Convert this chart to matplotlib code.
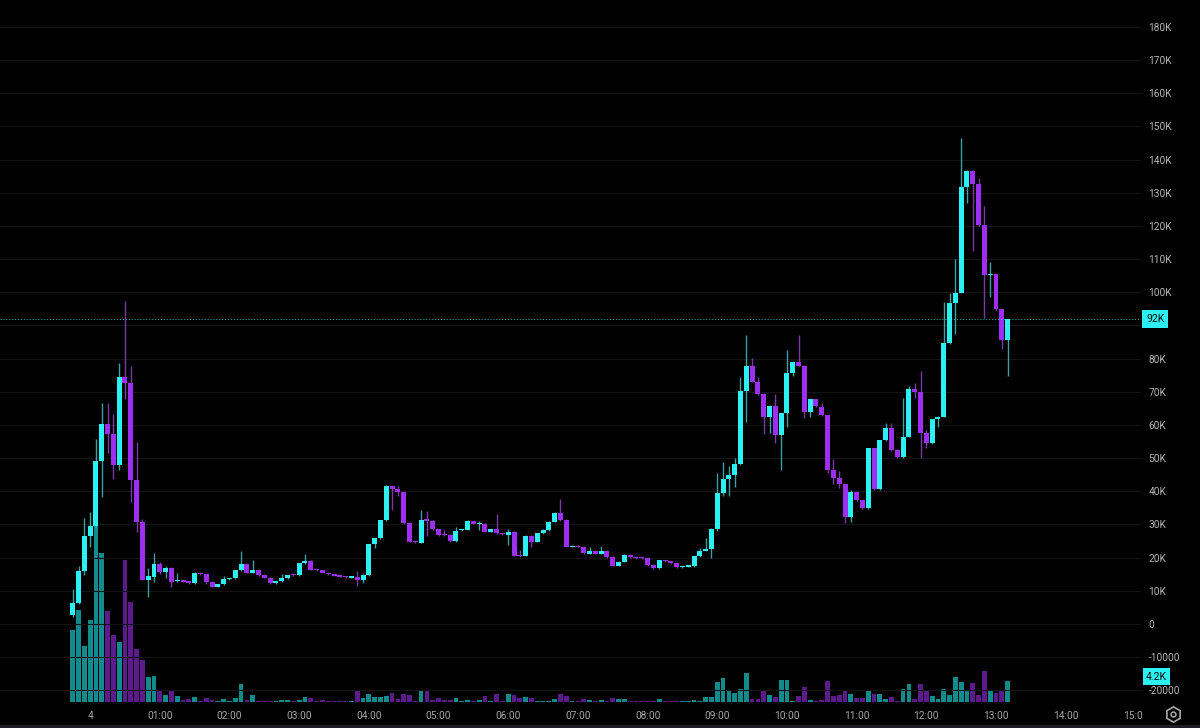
import matplotlib
matplotlib.use("Agg")
import matplotlib.pyplot as plt
from matplotlib.patches import Rectangle
from matplotlib.lines import Line2D
from matplotlib.transforms import blended_transform_factory
from matplotlib.ticker import FuncFormatter, FixedLocator
import numpy as np

plt.rcParams['font.family'] = ['Roboto', 'DejaVu Sans']

# 5-minute candles from 23:45 (day 3) to ~13:10 (day 4), prices in K
opens = [2.7, 6.4, 16.0, 26.6, 29.6, 49.2, 60.4, 57.3, 47.9, 74.4,
         72.6, 43.4, 30.7, 13.3, 14.3, 18.0, 15.6, 17.0, 12.9, 13.0,
         12.9, 12.3, 15.5, 15.0, 12.8, 11.3, 12.0, 13.5, 13.8, 16.3,
         18.0, 15.5, 16.2, 14.9, 14.0, 12.4, 12.9, 13.9, 15.0, 14.8,
         18.4, 19.1, 16.4, 16.2, 15.5, 15.0, 14.6, 14.3, 14.0, 14.3,
         13.3, 14.8, 24.1, 25.8, 31.4, 41.7, 40.6, 39.7, 30.5, 24.8,
         24.5, 31.4, 31.1, 28.5, 26.9, 26.8, 25.0, 28.2, 28.4, 31.1,
         30.2, 30.2, 27.8, 28.5, 27.2, 26.8, 27.8, 20.6, 20.6, 26.6,
         24.8, 27.3, 28.3, 30.9, 33.6, 31.4, 23.3, 23.6, 23.3, 21.2,
         22.0, 21.2, 22.0, 20.2, 17.6, 18.8, 20.8, 20.3, 20.0, 19.9,
         17.9, 16.9, 19.2, 18.9, 18.3, 17.1, 17.3, 17.5, 20.4, 22.1,
         22.5, 28.6, 39.4, 43.6, 44.9, 48.2, 70.2, 77.8, 73.1, 69.3,
         62.5, 65.8, 57.0, 63.5, 75.8, 79.1, 77.9, 63.8, 67.8, 65.5,
         63.0, 46.4, 44.1, 42.1, 32.4, 39.7, 37.4, 35.0, 53.0, 40.7,
         55.5, 59.0, 52.5, 50.4, 56.5, 70.9, 70.0, 57.5, 54.5, 61.8,
         62.5, 84.6, 96.7, 99.9, 131.7, 136.7, 132.7, 120.3, 105.2, 105.5,
         94.9, 85.6]
highs = [10.5, 17.5, 32.0, 33.9, 55.8, 66.6, 66.6, 63.3, 78.8, 97.5,
         77.8, 54.8, 31.7, 16.9, 21.3, 18.8, 17.6, 17.2, 15.5, 13.2,
         13.1, 15.7, 15.6, 15.1, 12.9, 12.1, 14.4, 13.9, 16.4, 22.1,
         18.2, 19.3, 16.5, 15.0, 14.1, 13.0, 15.2, 14.8, 15.1, 18.5,
         21.1, 19.3, 16.5, 16.3, 15.6, 15.1, 14.7, 14.4, 14.5, 16.1,
         15.0, 24.2, 26.0, 31.5, 41.8, 41.9, 41.5, 39.8, 30.7, 25.0,
         34.4, 34.2, 31.3, 28.7, 28.3, 27.0, 29.2, 28.6, 31.3, 31.2,
         31.2, 30.4, 28.7, 33.1, 27.4, 28.6, 28.0, 22.4, 26.8, 26.8,
         27.5, 28.5, 31.1, 33.8, 37.6, 31.6, 23.7, 23.8, 23.5, 23.3,
         22.2, 23.6, 22.2, 20.4, 19.0, 21.0, 21.0, 20.5, 20.2, 20.1,
         18.1, 19.4, 19.4, 19.1, 18.5, 17.5, 17.7, 20.6, 23.0, 25.8,
         28.8, 45.6, 48.9, 47.5, 50.2, 74.4, 87.1, 80.1, 74.4, 69.5,
         65.9, 69.3, 63.6, 82.6, 79.2, 87.1, 78.0, 67.9, 67.9, 66.5,
         63.1, 49.6, 46.2, 42.2, 40.5, 40.2, 37.5, 53.1, 53.1, 55.6,
         60.5, 60.5, 52.7, 68.2, 71.9, 72.8, 76.4, 58.5, 61.9, 62.6,
         97.2, 99.7, 110.0, 146.4, 136.8, 136.8, 134.4, 126.0, 109.2, 105.6,
         95.0, 91.9]
lows = [2.0, 6.0, 14.8, 23.3, 29.0, 38.3, 51.6, 43.7, 46.4, 67.7,
        36.9, 27.8, 13.3, 8.0, 12.8, 15.2, 14.0, 11.2, 12.6, 12.6,
        12.2, 12.1, 14.9, 12.0, 11.1, 11.1, 11.8, 13.3, 13.6, 16.1,
        15.3, 15.3, 14.6, 13.8, 12.2, 12.2, 12.7, 13.7, 14.6, 14.6,
        18.2, 16.2, 16.1, 15.3, 14.9, 14.4, 14.1, 13.9, 13.8, 11.5,
        12.3, 14.6, 23.0, 25.6, 31.2, 34.4, 38.5, 30.3, 24.6, 24.4,
        24.3, 26.5, 28.3, 26.6, 26.5, 24.8, 24.8, 27.9, 28.2, 30.0,
        28.4, 27.6, 27.6, 27.1, 26.8, 23.8, 20.4, 20.3, 20.4, 23.3,
        24.6, 27.1, 28.1, 30.7, 31.2, 23.1, 23.1, 23.1, 21.1, 21.0,
        21.0, 21.0, 20.0, 17.4, 17.4, 18.6, 20.0, 19.7, 19.7, 17.6,
        16.7, 16.7, 18.7, 18.1, 16.9, 16.9, 17.1, 17.3, 20.2, 21.9,
        20.0, 28.0, 38.7, 38.7, 41.4, 48.0, 61.0, 73.0, 69.1, 57.3,
        57.7, 54.7, 46.4, 59.3, 74.8, 77.7, 62.0, 62.5, 65.4, 62.8,
        45.5, 42.1, 40.9, 30.4, 30.9, 37.2, 34.7, 34.8, 40.5, 40.5,
        55.3, 52.3, 50.2, 50.2, 56.3, 68.2, 50.0, 53.0, 54.3, 59.3,
        62.3, 84.4, 87.4, 99.7, 126.8, 112.6, 120.1, 92.2, 98.7, 94.7,
        82.8, 74.8]
closes = [6.4, 16.0, 26.6, 29.6, 49.2, 60.4, 57.3, 47.9, 74.4, 72.6,
          43.4, 30.7, 13.3, 14.5, 18.0, 15.6, 17.0, 12.8, 13.2, 12.8,
          12.5, 15.5, 15.0, 12.8, 11.3, 12.0, 13.5, 13.8, 16.3, 18.0,
          15.5, 16.2, 14.8, 14.0, 12.4, 12.9, 13.9, 14.7, 14.8, 18.4,
          19.1, 16.4, 16.3, 15.5, 15.1, 14.6, 14.3, 14.1, 14.3, 13.3,
          14.8, 24.1, 25.8, 31.4, 41.7, 40.6, 39.7, 30.5, 24.8, 24.6,
          31.4, 31.2, 28.5, 26.8, 26.7, 25.0, 28.0, 28.4, 31.1, 30.2,
          30.5, 27.8, 28.5, 27.3, 27.0, 27.8, 20.6, 20.5, 26.6, 24.8,
          27.3, 28.3, 30.9, 33.6, 31.4, 23.3, 23.5, 23.3, 21.3, 22.0,
          21.2, 22.0, 20.2, 17.6, 18.8, 20.8, 20.2, 19.9, 19.9, 17.8,
          16.9, 19.2, 18.9, 18.3, 17.1, 17.3, 17.5, 20.4, 22.1, 22.5,
          28.6, 39.4, 43.6, 44.9, 48.2, 70.2, 77.8, 73.1, 69.3, 62.5,
          65.8, 57.0, 63.5, 75.8, 79.1, 77.9, 63.8, 67.8, 65.6, 63.0,
          46.4, 44.1, 42.1, 32.4, 39.7, 37.4, 34.9, 53.0, 40.7, 55.5,
          59.0, 52.5, 50.4, 56.5, 70.9, 70.0, 57.5, 54.5, 61.8, 62.5,
          84.6, 96.7, 99.9, 131.7, 136.7, 132.7, 120.3, 105.2, 105.5, 94.9,
          85.6, 91.9]
volumes = [14.7, 18.7, 11.4, 16.7, 36.0, 30.4, 18.5, 13.6, 12.2, 29.0,
           20.5, 10.9, 8.6, 5.1, 5.4, 2.5, 1.5, 2.5, 1.3, 0.4,
           0.7, 1.0, 0.2, 0.8, 0.5, 0.3, 0.7, 0.2, 0.9, 3.6,
           0.4, 1.4, 0.3, 0.3, 0.3, 0.25, 0.4, 0.5, 0.2, 0.5,
           1.0, 0.8, 0.2, 0.4, 0.2, 0.2, 0.2, 0.2, 0.2, 2.4,
           0.9, 1.7, 1.0, 1.0, 1.2, 1.9, 0.7, 1.6, 1.5, 0.2,
           2.5, 2.5, 0.4, 0.9, 0.4, 0.5, 0.8, 0.3, 0.5, 0.3,
           0.5, 1.2, 0.3, 1.7, 0.2, 1.6, 1.5, 0.8, 1.0, 0.9,
           0.3, 0.3, 0.3, 0.7, 1.6, 1.3, 0.3, 0.3, 0.6, 0.5,
           0.3, 0.5, 0.3, 0.8, 0.6, 0.6, 0.3, 0.3, 0.2, 0.3,
           0.3, 0.6, 0.2, 0.2, 0.2, 0.2, 0.2, 0.4, 0.3, 1.0,
           1.1, 4.1, 5.0, 2.2, 1.8, 2.7, 6.0, 0.6, 0.6, 2.3,
           1.5, 1.1, 4.4, 4.5, 0.3, 1.3, 3.0, 0.5, 0.2, 0.4,
           4.3, 1.3, 1.5, 2.3, 1.7, 0.8, 0.8, 2.4, 1.7, 1.6,
           0.6, 1.1, 0.2, 2.7, 3.7, 0.7, 3.7, 2.5, 1.3, 0.7,
           2.7, 1.5, 5.1, 4.0, 2.3, 3.9, 1.5, 6.4, 2.2, 1.8,
           2.2, 4.2]

time_labels = ["4", "01:00", "02:00", "03:00", "04:00", "05:00", "06:00", "07:00",
               "08:00", "09:00", "10:00", "11:00", "12:00", "13:00", "14:00", "15:00"]
time_tick_pos = [3 + 12 * k for k in range(len(time_labels))]  # candle index of each hour
price_ticks = list(range(-20, 190, 10))

bg = '#000000'
up_col = '#2cf0f2'
dn_col = '#9c2ff0'
up_wick = '#3c9fa2'
dn_wick = '#7a3aa6'
up_vol = '#128b8d'
dn_vol = '#5c1b8a'
grid_col = '#141414'
txt_col = '#b4b4b4'

W, H = 1200, 728
fig = plt.figure(figsize=(12, 7.28), dpi=100, facecolor=bg)
rect = [0, 25 / H, 1141 / W, 703 / H]

# volume axes (drawn below the candles)
vax = fig.add_axes(rect)
vax.set_facecolor(bg)
x = np.arange(len(closes))
o = np.array(opens)
c = np.array(closes)
up = c >= o
vax.bar(x, volumes, width=0.82, color=np.where(up, up_vol, dn_vol), linewidth=0)
vax.set_ylim(-0.2, 143.2)
vax.set_xlim(-12.52, 183.97)
for s in vax.spines.values():
    s.set_visible(False)
vax.tick_params(axis='y', left=False, labelleft=False)
vax.xaxis.set_major_locator(FixedLocator(time_tick_pos))
vax.set_xticklabels(time_labels)
vax.tick_params(axis='x', length=0, pad=5.5, labelsize=7.3, colors='#a6a6a6')

# price axes
ax = vax.twinx()
ax.set_ylim(-23.82, 188.14)
ax.set_xlim(-12.52, 183.97)
for s in ax.spines.values():
    s.set_visible(False)
ax.yaxis.set_major_locator(FixedLocator(price_ticks))

last = closes[-1]


def fmt(v, pos):
    # the last-price badge hides the scale label right next to it
    if abs(v - last) < 4:
        return ""
    if v > 0:
        return f"{int(round(v))}K"
    if v == 0:
        return "0"
    return f"{int(round(v * 1000))}"


ax.yaxis.set_major_formatter(FuncFormatter(fmt))
ax.tick_params(axis='y', length=0, pad=5.3, labelsize=7.3, colors=txt_col)
ax.grid(axis='y', color=grid_col, linewidth=0.8)

# candles
ax.vlines(x, lows, highs, colors=np.where(up, up_wick, dn_wick), linewidth=1.0, zorder=2)
body_lo = np.minimum(o, c)
body_h = np.maximum(np.abs(c - o), 0.35)
ax.bar(x, body_h, bottom=body_lo, width=0.86, color=np.where(up, up_col, dn_col),
       linewidth=0, zorder=3)

# last price line and labels
ax.axhline(last, color=up_col, linestyle=(0, (1, 2)), linewidth=0.7, alpha=0.8, zorder=4)
tr = blended_transform_factory(ax.transAxes, ax.transData)
ax.text(1.0045, last, f"{round(last)}K", transform=tr, ha='left', va='center', fontsize=7.6,
        color='#0a0a0a', clip_on=False, zorder=6,
        bbox=dict(boxstyle='square,pad=0.38', fc=up_col, ec='none'))
vtr = blended_transform_factory(vax.transAxes, vax.transData)
ax.text(1.0045, volumes[-1] + 1.0, f"{volumes[-1]}K", transform=vtr, ha='left', va='center',
        fontsize=7.6, color='#0a0a0a', clip_on=False, zorder=6,
        bbox=dict(boxstyle='square,pad=0.3', fc=up_col, ec='none'))

# price scale area covers the clipped time label, settings icon, bottom strip
fig.add_artist(Rectangle((1143 / W, 3 / H), 1 - 1143 / W, 22 / H, transform=fig.transFigure,
                         facecolor=bg, edgecolor='none', zorder=5))
fig.add_artist(Line2D([1173 / W], [14 / H], marker='h', markersize=11, markerfacecolor='none',
                      markeredgecolor='#a8a8a8', markeredgewidth=1.2,
                      transform=fig.transFigure, zorder=6))
fig.add_artist(Line2D([1173 / W], [14 / H], marker='o', markersize=3.5, markerfacecolor='none',
                      markeredgecolor='#a8a8a8', markeredgewidth=1.1,
                      transform=fig.transFigure, zorder=6))
fig.add_artist(Rectangle((0, 0), 1, 3 / H, transform=fig.transFigure,
                         facecolor='#1b1e25', edgecolor='none', zorder=7))

fig.savefig("out.png", dpi=100, facecolor=bg)
